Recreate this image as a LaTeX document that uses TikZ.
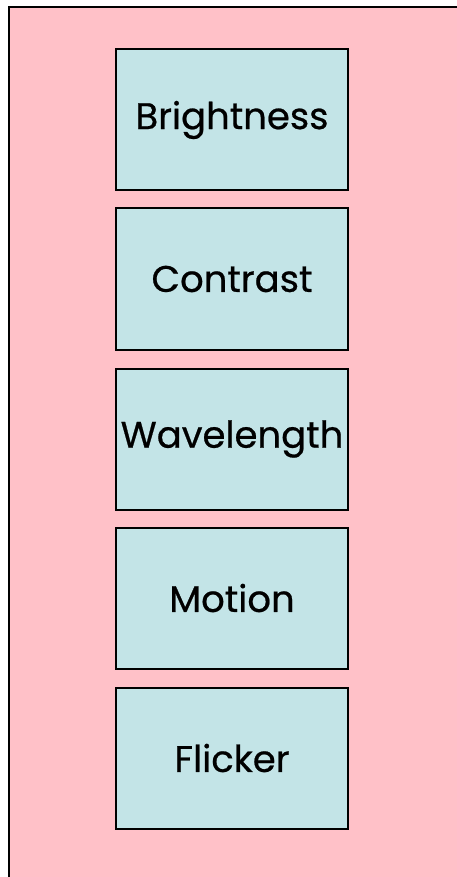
\documentclass[tikz,border=0pt]{standalone}
\usepackage{fontspec}
\setmainfont{Poppins}[FakeBold=0.6]
\definecolor{bgpink}{HTML}{FFC1C8}
\definecolor{boxcyan}{HTML}{C3E4E7}
\begin{document}
\begin{tikzpicture}[x=1pt,y=-1pt,
  cell/.style={draw=black, line width=2pt, fill=boxcyan, minimum width=232pt, minimum height=141pt, inner sep=0pt, font=\fontsize{37}{37}\selectfont}]
\clip (0,0) rectangle (457,877);
\fill[white] (0,0) rectangle (457,877);
\draw[line width=2pt, fill=bgpink] (9,7) rectangle (480,900);
\node[cell] (b) at (232,120) {Brightness};
\node[cell] (c) at (232,279) {Contrast};
\node[cell] (w) at (232,439) {Wavelength};
\node[cell] (m) at (232,598) {Motion};
\node[cell] (f) at (232,758) {Flicker};
\end{tikzpicture}
\end{document}
